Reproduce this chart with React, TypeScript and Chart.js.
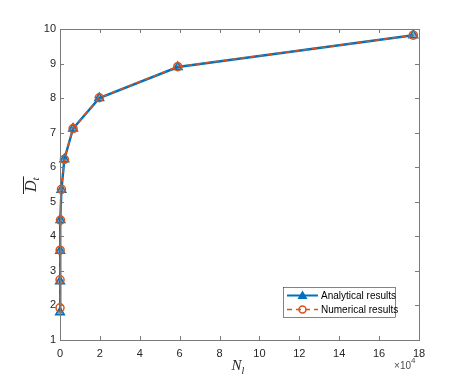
import React, { useEffect, useRef } from "react";
import { Chart, registerables } from "chart.js";

Chart.register(...registerables);

const nValues = [9, 27, 81, 243, 729, 2187, 6561, 19683, 59049, 177147];
const analyticalD = [1.8, 2.7, 3.58, 4.47, 5.35, 6.23, 7.12, 8.0, 8.9, 9.82];
const numericalD = [1.93, 2.74, 3.6, 4.47, 5.36, 6.23, 7.12, 8.01, 8.91, 9.82];
const xTickValues = [0, 2, 4, 6, 8, 10, 12, 14, 16, 18];
const yTickValues = [1, 2, 3, 4, 5, 6, 7, 8, 9, 10];
const seriesNames = ["Analytical results", "Numerical results"];
const xTitle = "N";
const xTitleSub = "l";
const yTitle = "D";
const yTitleSub = "t";

const BLUE = "#0072BD";
const ORANGE = "#D95319";
const AXIS = "#262626";
const AXIS_LINE = "#7a7a7a";

const decorPlugin = {
  id: "decor",
  afterDraw(chart: any) {
    const ctx = chart.ctx;
    const { left, right, top, bottom } = chart.chartArea;
    const xs = chart.scales.x;
    const ys = chart.scales.y;
    ctx.save();
    // box
    ctx.strokeStyle = AXIS_LINE;
    ctx.lineWidth = 1;
    ctx.strokeRect(Math.round(left) + 0.5, Math.round(top) + 0.5, Math.round(right - left), Math.round(bottom - top));
    // ticks inside
    const tl = 4;
    ctx.beginPath();
    xTickValues.forEach((v) => {
      const px = Math.round(xs.getPixelForValue(v * 1e4)) + 0.5;
      ctx.moveTo(px, bottom);
      ctx.lineTo(px, bottom - tl);
      ctx.moveTo(px, top);
      ctx.lineTo(px, top + tl);
    });
    yTickValues.forEach((v) => {
      const py = Math.round(ys.getPixelForValue(v)) + 0.5;
      ctx.moveTo(left, py);
      ctx.lineTo(left + tl, py);
      ctx.moveTo(right, py);
      ctx.lineTo(right - tl, py);
    });
    ctx.stroke();

    // x title
    ctx.fillStyle = AXIS;
    ctx.textBaseline = "alphabetic";
    ctx.textAlign = "left";
    ctx.font = "italic 15px 'Liberation Serif', 'DejaVu Serif', serif";
    const cx = (left + right) / 2;
    ctx.fillText(xTitle, cx - 8, 370);
    const nw = ctx.measureText(xTitle).width;
    ctx.font = "italic 10px 'Liberation Serif', 'DejaVu Serif', serif";
    ctx.fillText(xTitleSub, cx - 8 + nw, 374);

    // y title rotated
    ctx.save();
    ctx.translate(36, 183);
    ctx.rotate(-Math.PI / 2);
    ctx.font = "italic 16px 'Liberation Serif', 'DejaVu Serif', serif";
    ctx.fillText(yTitle, -9, 0);
    const dw = ctx.measureText(yTitle).width;
    ctx.font = "italic 11px 'Liberation Serif', 'DejaVu Serif', serif";
    ctx.fillText(yTitleSub, -9 + dw, 3);
    const tw = ctx.measureText(yTitleSub).width;
    ctx.strokeStyle = AXIS;
    ctx.lineWidth = 1;
    ctx.beginPath();
    ctx.moveTo(-11, -12.5);
    ctx.lineTo(-9 + dw + tw + 1, -12.5);
    ctx.stroke();
    ctx.restore();

    // exponent
    ctx.font = "10px 'Liberation Sans', Arial, sans-serif";
    ctx.fillStyle = "#4d4d4d";
    ctx.textAlign = "right";
    ctx.fillText("\u00d710", right - 8, 369);
    ctx.font = "8px 'Liberation Sans', Arial, sans-serif";
    ctx.textAlign = "left";
    ctx.fillText("4", right - 8, 363);

    // legend
    const lx = 283, ly = 287, lw = 112, lh = 30;
    ctx.fillStyle = "#ffffff";
    ctx.fillRect(lx, ly, lw, lh);
    ctx.strokeStyle = "#333333";
    ctx.lineWidth = 0.6;
    ctx.strokeRect(lx + 0.5, ly + 0.5, lw, lh);
    const rows = [ly + 8.5, ly + 22.5];
    // row 1
    ctx.strokeStyle = BLUE;
    ctx.lineWidth = 2;
    ctx.setLineDash([]);
    ctx.beginPath();
    ctx.moveTo(lx + 4, rows[0]);
    ctx.lineTo(lx + 35, rows[0]);
    ctx.stroke();
    ctx.fillStyle = BLUE;
    ctx.beginPath();
    ctx.moveTo(lx + 19.5, rows[0] - 5);
    ctx.lineTo(lx + 24.5, rows[0] + 3.5);
    ctx.lineTo(lx + 14.5, rows[0] + 3.5);
    ctx.closePath();
    ctx.fill();
    // row 2
    ctx.strokeStyle = ORANGE;
    ctx.lineWidth = 1.5;
    ctx.setLineDash([5, 4]);
    ctx.beginPath();
    ctx.moveTo(lx + 4, rows[1]);
    ctx.lineTo(lx + 35, rows[1]);
    ctx.stroke();
    ctx.setLineDash([]);
    ctx.beginPath();
    ctx.arc(lx + 19.5, rows[1], 3.5, 0, Math.PI * 2);
    ctx.stroke();
    ctx.fillStyle = "#000000";
    ctx.font = "10px 'Liberation Sans', Arial, sans-serif";
    ctx.textAlign = "left";
    ctx.textBaseline = "middle";
    ctx.fillText(seriesNames[0], lx + 38, rows[0] + 0.5);
    ctx.fillText(seriesNames[1], lx + 38, rows[1] + 0.5);
    ctx.restore();
  },
};

export default function App() {
  const ref = useRef<HTMLCanvasElement | null>(null);
  useEffect(() => {
    document.body.style.margin = "0";
    const canvas = ref.current;
    if (!canvas) return;
    const chart = new Chart(canvas, {
      type: "line",
      data: {
        datasets: [
          {
            label: seriesNames[0],
            data: nValues.map((n, i) => ({ x: n, y: analyticalD[i] })),
            borderColor: BLUE,
            backgroundColor: BLUE,
            borderWidth: 2.4,
            pointStyle: "triangle",
            pointRadius: 5,
            pointBorderColor: BLUE,
            pointBackgroundColor: "rgba(0,114,189,0.55)",
            pointBorderWidth: 1.5,
            clip: false,
            order: 1,
          },
          {
            label: seriesNames[1],
            data: nValues.map((n, i) => ({ x: n, y: numericalD[i] })),
            borderColor: ORANGE,
            backgroundColor: ORANGE,
            borderWidth: 1.5,
            borderDash: [5, 4],
            pointStyle: "circle",
            pointRadius: 4,
            pointBorderColor: ORANGE,
            pointBackgroundColor: "rgba(0,0,0,0)",
            pointBorderWidth: 1.5,
            clip: false,
            order: 0,
          },
        ],
      },
      options: {
        animation: false,
        responsive: false,
        layout: { padding: { left: 30, right: 44, top: 29, bottom: 12 } },
        plugins: { legend: { display: false }, tooltip: { enabled: false } },
        scales: {
          x: {
            type: "linear",
            min: 0,
            max: 180000,
            afterFit: (s: any) => {
              s.height = 30;
            },
            afterBuildTicks: (s: any) => {
              s.ticks = xTickValues.map((v) => ({ value: v * 1e4 }));
            },
            grid: { display: false, drawTicks: false, tickLength: 0 },
            border: { display: false },
            ticks: {
              padding: 7,
              color: AXIS,
              font: { family: "'Liberation Sans', Arial, sans-serif", size: 11 },
              callback: (v: any) => String(Math.round(Number(v) / 1e4)),
              maxRotation: 0,
            },
          },
          y: {
            type: "linear",
            min: 1,
            max: 10,
            afterFit: (s: any) => {
              s.width = 30;
            },
            afterBuildTicks: (s: any) => {
              s.ticks = yTickValues.map((v) => ({ value: v }));
            },
            grid: { display: false, drawTicks: false, tickLength: 0 },
            border: { display: false },
            ticks: {
              padding: 4,
              color: AXIS,
              font: { family: "'Liberation Sans', Arial, sans-serif", size: 11 },
              callback: (v: any) => String(v),
            },
          },
        },
      },
      plugins: [decorPlugin],
    });
    return () => chart.destroy();
  }, []);
  return <canvas ref={ref} width={463} height={382} style={{ display: "block" }} />;
}
